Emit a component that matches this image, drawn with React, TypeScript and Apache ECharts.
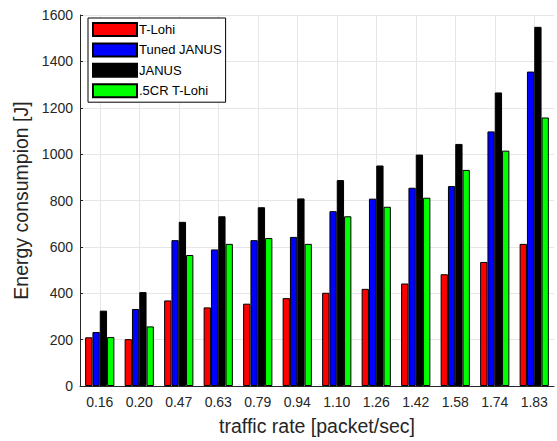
import React, { useEffect, useRef } from "react";
import * as echarts from "echarts";

const categories = ["0.16", "0.20", "0.47", "0.63", "0.79", "0.94", "1.10", "1.26", "1.42", "1.58", "1.74", "1.83"];
const tLohi = [210, 202, 369, 339, 355, 379, 402, 419, 442, 482, 535, 613];
const tunedJanus = [233, 332, 629, 589, 629, 643, 754, 808, 855, 862, 1098, 1356];
const janus = [325, 405, 708, 732, 771, 809, 888, 951, 998, 1044, 1266, 1549];
const cr5TLohi = [211, 257, 565, 613, 638, 613, 732, 773, 812, 932, 1015, 1158];
const yTicks = { min: 0, max: 1600, interval: 200 };

const FONT = "Liberation Sans";

export default function App() {
  const ref = useRef<HTMLDivElement>(null);
  useEffect(() => {
    if (!ref.current) return;
    const chart = echarts.init(ref.current, null, { renderer: "svg" });
    const gridPts = Array.from({ length: categories.length * 2 + 1 }, (_, i) => "g" + i);
    const mk = (name: string, color: string, data: number[]) => ({
      name,
      type: "bar",
      data,
      xAxisIndex: 0,
      barGap: "0%",
      barCategoryGap: "26%",
      itemStyle: { color, borderColor: "#000", borderWidth: 1 },
    });
    chart.setOption({
      animation: false,
      textStyle: { fontFamily: FONT },
      grid: { left: 80, right: 3, top: 15, bottom: 53, containLabel: false },
      legend: {
        orient: "vertical",
        left: 88,
        top: 18,
        padding: [4, 4, 4, 4],
        itemGap: 5.4,
        itemWidth: 44,
        itemHeight: 13,
        icon: "rect",
        backgroundColor: "#fff",
        borderColor: "#000",
        borderWidth: 1,
        textStyle: { fontFamily: FONT, fontSize: 13, color: "#000", padding: [0, 0, 0, -3] },
        data: ["T-Lohi", "Tuned JANUS", "JANUS", ".5CR T-Lohi"],
      },
      xAxis: [
        {
          type: "category",
          data: categories,
          position: "bottom",
          name: "traffic rate [packet/sec]",
          nameLocation: "middle",
          nameGap: 30,
          nameTextStyle: { fontFamily: FONT, fontSize: 19.5, color: "#262626" },
          axisLine: { lineStyle: { color: "#262626", width: 1 } },
          axisTick: { show: true, inside: true, alignWithLabel: true, length: 3, lineStyle: { color: "#262626" } },
          axisLabel: { fontFamily: FONT, fontSize: 14, color: "#262626", margin: 9 },
          splitLine: { show: false },
        },
        {
          type: "category",
          data: gridPts,
          boundaryGap: false,
          position: "bottom",
          axisLine: { show: false },
          axisTick: { show: false },
          axisLabel: { show: false },
          splitLine: {
            show: true,
            interval: (i: number) => i % 2 === 1,
            lineStyle: { color: "#e6e6e6", width: 1 },
          },
        },
      ],
      yAxis: {
        type: "value",
        min: yTicks.min,
        max: yTicks.max,
        interval: yTicks.interval,
        name: "Energy consumpion [J]",
        nameLocation: "middle",
        nameGap: 44,
        nameTextStyle: { fontFamily: FONT, fontSize: 19.5, color: "#262626" },
        axisLine: { show: true, lineStyle: { color: "#262626", width: 1 } },
        axisTick: { show: true, inside: true, length: 3, lineStyle: { color: "#262626" } },
        axisLabel: { fontFamily: FONT, fontSize: 14, color: "#262626", margin: 7, formatter: (v: number) => String(v) },
        splitLine: { show: true, lineStyle: { color: "#e6e6e6", width: 1 } },
      },
      series: [
        mk("T-Lohi", "#ff0000", tLohi),
        mk("Tuned JANUS", "#0000ff", tunedJanus),
        mk("JANUS", "#000000", janus),
        mk(".5CR T-Lohi", "#00ff00", cr5TLohi),
      ],
    });
    return () => chart.dispose();
  }, []);
  return <div ref={ref} style={{ width: 557, height: 441, position: "absolute", left: 0, top: 0 }} />;
}
